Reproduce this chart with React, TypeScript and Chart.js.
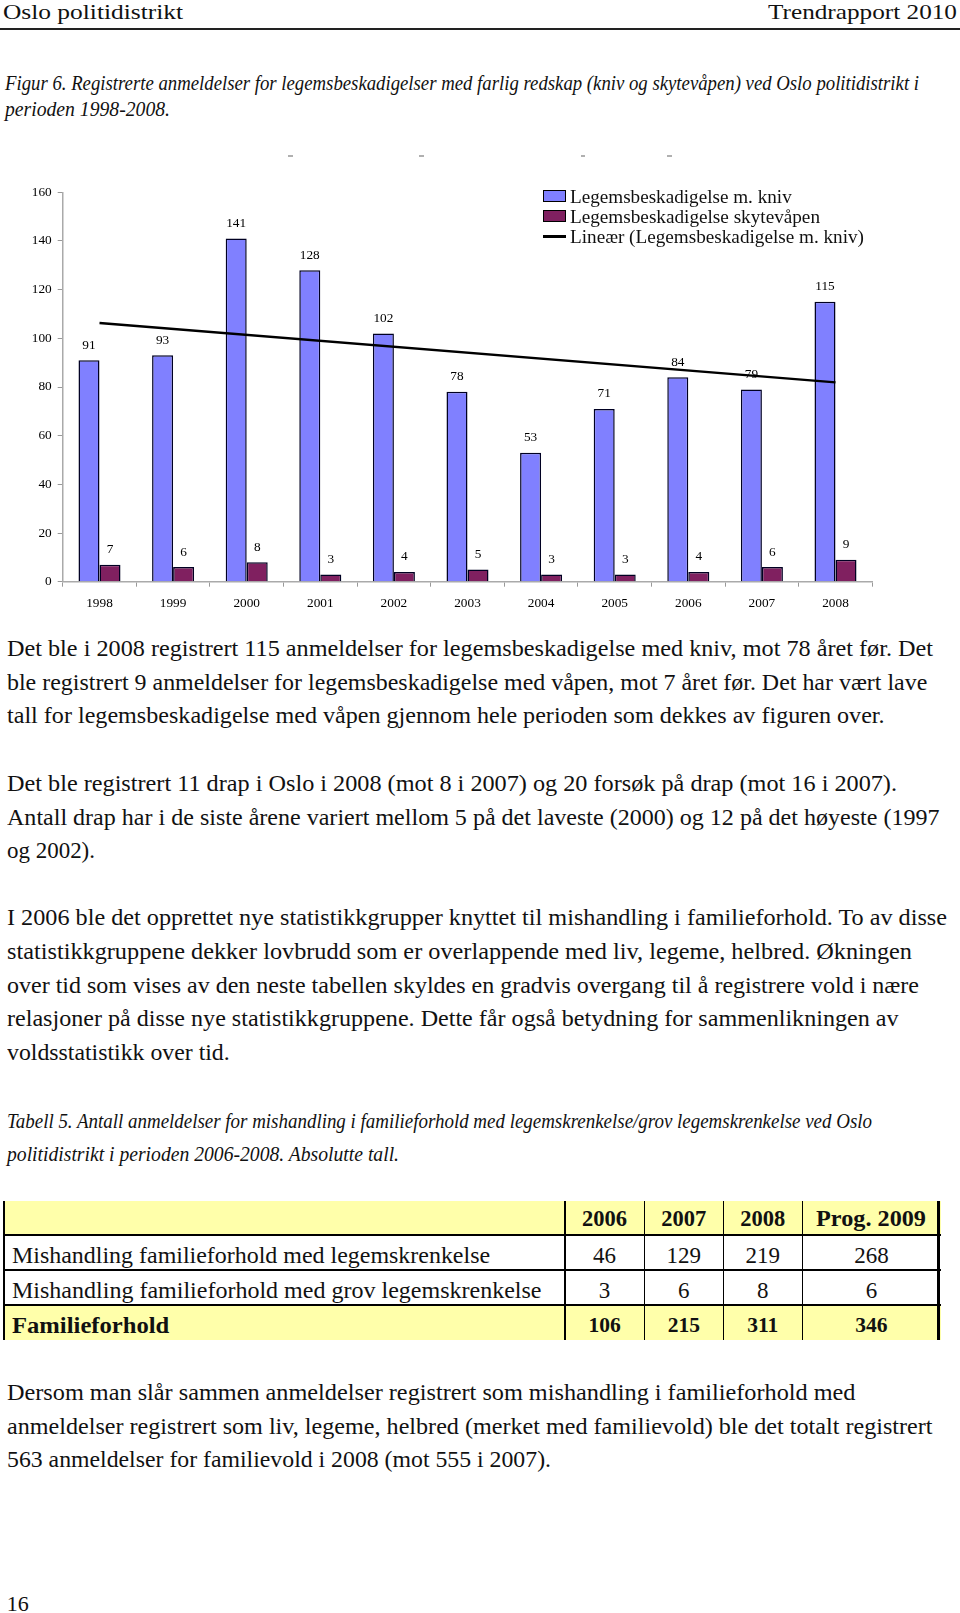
import React, { useEffect, useLayoutEffect, useRef } from "react";
import { Chart, registerables } from "chart.js";

Chart.register(...registerables);

// ---------- chart data ----------
const years = ["1998", "1999", "2000", "2001", "2002", "2003", "2004", "2005", "2006", "2007", "2008"];
const knivValues = [91, 93, 141, 128, 102, 78, 53, 71, 84, 79, 115];
const skyteValues = [7, 6, 8, 3, 4, 5, 3, 3, 4, 6, 9];
// trend line: start (1998) and end (2008), straight between
const trendValues: (number | null)[] = [106.3, null, null, null, null, null, null, null, null, null, 81.9];
const yMin = 0;
const yMax = 160;
const yStep = 20;
const legendLabels = [
  "Legemsbeskadigelse m. kniv",
  "Legemsbeskadigelse skytevåpen",
  "Lineær (Legemsbeskadigelse m. kniv)",
];

// ---------- table data ----------
const tableHeaders = ["2006", "2007", "2008", "Prog. 2009"];
const tableRowLabels = [
  "Mishandling familieforhold med legemskrenkelse",
  "Mishandling familieforhold med grov legemskrenkelse",
  "Familieforhold",
];
const rowLegemskrenkelse = [46, 129, 219, 268];
const rowGrovLegemskrenkelse = [3, 6, 8, 6];
const rowFamilieforhold = [106, 215, 311, 346];

const BLUE = "#8080ff";
const PURPLE = "#802060";
const FONT = "'Liberation Serif', 'Times New Roman', serif";

type FitProps = {
  x: number;
  b: number;
  w?: number;
  size: number;
  italic?: boolean;
  bold?: boolean;
  align?: "left" | "center";
  children: React.ReactNode;
};

function Fit({ x, b, w, size, italic, bold, align = "left", children }: FitProps) {
  const ref = useRef<HTMLSpanElement>(null);
  useLayoutEffect(() => {
    const fit = () => {
      const el = ref.current;
      if (!el || !w) return;
      el.style.transform = "none";
      const nat = el.getBoundingClientRect().width;
      if (nat > 0) el.style.transform = `scaleX(${w / nat})`;
    };
    fit();
    const fonts = (document as any).fonts;
    if (fonts && fonts.ready) fonts.ready.then(fit);
  });
  const top = b - 0.8375 * size;
  const style: React.CSSProperties = {
    position: "absolute",
    top,
    whiteSpace: "nowrap",
    fontSize: size,
    lineHeight: `${size}px`,
    fontStyle: italic ? "italic" : "normal",
    fontWeight: bold ? "bold" : "normal",
    fontFamily: FONT,
    color: "#111",
    transformOrigin: "0 0",
  };
  if (align === "center") {
    if (w) {
      style.left = x - w / 2;
    } else {
      style.left = x;
      style.transform = "translateX(-50%)";
    }
  } else {
    style.left = x;
  }
  return (
    <span ref={ref} style={style}>
      {children}
    </span>
  );
}

function BarChart() {
  const canvasRef = useRef<HTMLCanvasElement>(null);
  useEffect(() => {
    if (!canvasRef.current) return;
    const labelPlugin = {
      id: "barValueLabels",
      afterDatasetDraw(chart: any, args: any) {
        const meta = args.meta;
        if (meta.type !== "bar") return;
        const ds = chart.data.datasets[args.index];
        const ctx = chart.ctx;
        ctx.save();
        ctx.font = `13.3px ${FONT}`;
        ctx.fillStyle = "#000";
        ctx.textAlign = "center";
        ctx.textBaseline = "middle";
        meta.data.forEach((el: any, i: number) => {
          ctx.fillText(String(ds.data[i]), el.x, el.y - 15);
        });
        ctx.restore();
      },
    };
    const tickFont = { family: FONT, size: 13.3 };
    const chart = new Chart(canvasRef.current, {
      type: "bar",
      data: {
        labels: years,
        datasets: [
          {
            type: "line",
            label: legendLabels[2],
            data: trendValues,
            borderColor: "#000",
            borderWidth: 2.5,
            pointRadius: 0,
            spanGaps: true,
            tension: 0,
            order: 0,
          } as any,
          {
            type: "bar",
            label: legendLabels[0],
            data: knivValues,
            backgroundColor: BLUE,
            borderColor: "#000022",
            borderWidth: 1.5,
            categoryPercentage: 0.571,
            barPercentage: 1,
            order: 1,
          },
          {
            type: "bar",
            label: legendLabels[1],
            data: skyteValues,
            backgroundColor: PURPLE,
            borderColor: "#000022",
            borderWidth: 1.5,
            categoryPercentage: 0.571,
            barPercentage: 1,
            order: 1,
          },
        ],
      },
      options: {
        responsive: false,
        animation: false,
        devicePixelRatio: 1,
        layout: { padding: { left: 0, right: 87.7, top: 52.3, bottom: 0 } },
        plugins: { legend: { display: false }, tooltip: { enabled: false } },
        scales: {
          x: {
            offset: true,
            grid: {
              offset: true,
              drawOnChartArea: false,
              drawTicks: true,
              tickLength: 5,
              color: "#999",
              lineWidth: 1,
            },
            border: { display: true, color: "#aaa", width: 1.5 },
            ticks: { font: tickFont, color: "#000", padding: 9, maxRotation: 0, autoSkip: false },
            afterFit: (s: any) => {
              s.height = 48.3;
            },
          },
          y: {
            min: yMin,
            max: yMax,
            grid: {
              drawOnChartArea: false,
              drawTicks: true,
              tickLength: 5,
              color: "#999",
              lineWidth: 1,
            },
            border: { display: true, color: "#aaa", width: 1.5 },
            ticks: { stepSize: yStep, font: tickFont, color: "#000", padding: 6 },
            afterFit: (s: any) => {
              s.width = 62.7;
            },
          },
        },
      },
      plugins: [labelPlugin],
    });
    return () => chart.destroy();
  }, []);
  return (
    <canvas
      ref={canvasRef}
      width={960}
      height={490}
      style={{ position: "absolute", left: 0, top: 140, width: 960, height: 490 }}
    />
  );
}

function Legend() {
  const textX = 570;
  return (
    <>
      <div
        style={{
          position: "absolute",
          left: 543.3,
          top: 190,
          width: 22.4,
          height: 12.3,
          background: BLUE,
          border: "1.2px solid #000",
          boxSizing: "border-box",
        }}
      />
      <div
        style={{
          position: "absolute",
          left: 543.3,
          top: 210,
          width: 22.4,
          height: 12.3,
          background: PURPLE,
          border: "1.2px solid #000",
          boxSizing: "border-box",
        }}
      />
      <div style={{ position: "absolute", left: 543.3, top: 235, width: 22.4, height: 2.5, background: "#000" }} />
      <Fit x={textX} b={202.5} w={221.7} size={19}>
        {legendLabels[0]}
      </Fit>
      <Fit x={textX} b={223} w={250} size={19}>
        {legendLabels[1]}
      </Fit>
      <Fit x={textX} b={243} w={294} size={19}>
        {legendLabels[2]}
      </Fit>
    </>
  );
}

function Table() {
  const top = 1200.7;
  const rowB = [1235, 1270, 1305, 1340];
  const left = 3;
  const right = 940.5;
  const colX = [565, 644.3, 723.3, 802.3];
  const colCenters = [604.6, 683.8, 762.8, 871.4];
  const yellow = "#ffffaa";
  const rows = [rowLegemskrenkelse, rowGrovLegemskrenkelse, rowFamilieforhold];
  const labelW = [478.1, 529.5, 157.3];
  return (
    <>
      {/* backgrounds */}
      <div style={{ position: "absolute", left, top, width: right - left, height: rowB[0] - top, background: yellow }} />
      <div
        style={{ position: "absolute", left, top: rowB[2], width: right - left, height: rowB[3] - rowB[2], background: yellow }}
      />
      {/* horizontal lines */}
      {rowB.slice(0, 3).map((y, i) => (
        <div
          key={"h" + i}
          style={{ position: "absolute", left, top: y - 0.75, width: right - left, height: 1.5, background: "#000" }}
        />
      ))}
      {/* vertical lines */}
      {colX.map((x, i) => (
        <div
          key={"v" + i}
          style={{ position: "absolute", left: x - 0.6, top, width: 1.2, height: rowB[3] - top, background: "#000" }}
        />
      ))}
      <div style={{ position: "absolute", left: 2.7, top, width: 2.7, height: rowB[3] - top, background: "#000" }} />
      <div style={{ position: "absolute", left: 936.7, top, width: 3.8, height: rowB[3] - top, background: "#000" }} />
      {/* header */}
      {tableHeaders.map((h, i) => (
        <Fit key={"th" + i} x={colCenters[i]} b={1226.7} size={22.5} bold align="center" w={i === 3 ? 110 : undefined}>
          {h}
        </Fit>
      ))}
      {/* rows */}
      {rows.map((vals, r) => (
        <React.Fragment key={"r" + r}>
          <Fit x={11.7} b={1263 + r * 35} w={labelW[r]} size={23} bold={r === 2}>
            {tableRowLabels[r]}
          </Fit>
          {vals.map((v, c) => (
            <Fit key={"c" + c} x={colCenters[c]} b={1263 + r * 35} size={r === 2 ? 21.5 : 23} bold={r === 2} align="center">
              {String(v)}
            </Fit>
          ))}
        </React.Fragment>
      ))}
    </>
  );
}

export default function App() {
  const bodyX = 6.7;
  const S = 23;
  return (
    <div
      style={{
        position: "absolute",
        left: 0,
        top: 0,
        width: 960,
        height: 1613,
        overflow: "hidden",
        background: "#fff",
        fontFamily: FONT,
      }}
    >
      {/* page header */}
      <Fit x={3} b={19} w={180} size={22}>
        Oslo politidistrikt
      </Fit>
      <Fit x={768} b={19} w={189} size={22}>
        Trendrapport 2010
      </Fit>
      <div style={{ position: "absolute", left: 0, top: 28.3, width: 960, height: 1.6, background: "#222" }} />

      {/* figure caption */}
      <Fit x={5} b={90} w={914} size={22} italic>
        Figur 6. Registrerte anmeldelser for legemsbeskadigelser med farlig redskap (kniv og skytevåpen) ved Oslo politidistrikt i
      </Fit>
      <Fit x={5} b={116} w={165} size={22} italic>
        perioden 1998-2008.
      </Fit>

      {/* small grey marks above the chart */}
      {[
        [288, 293],
        [419, 424],
        [581, 585],
        [667, 672],
      ].map(([a, bb], i) => (
        <div key={"d" + i} style={{ position: "absolute", left: a, top: 155, width: bb - a, height: 2, background: "#b0b0b0" }} />
      ))}

      <BarChart />
      <Legend />

      {/* paragraph 1 */}
      <Fit x={bodyX} b={656} w={926} size={S}>
        Det ble i 2008 registrert 115 anmeldelser for legemsbeskadigelse med kniv, mot 78 året før. Det
      </Fit>
      <Fit x={bodyX} b={690} w={920.3} size={S}>
        ble registrert 9 anmeldelser for legemsbeskadigelse med våpen, mot 7 året før. Det har vært lave
      </Fit>
      <Fit x={bodyX} b={723} w={877.6} size={S}>
        tall for legemsbeskadigelse med våpen gjennom hele perioden som dekkes av figuren over.
      </Fit>

      {/* paragraph 2 */}
      <Fit x={bodyX} b={791} w={890} size={S}>
        Det ble registrert 11 drap i Oslo i 2008 (mot 8 i 2007) og 20 forsøk på drap (mot 16 i 2007).
      </Fit>
      <Fit x={bodyX} b={825} w={932.5} size={S}>
        Antall drap har i de siste årene variert mellom 5 på det laveste (2000) og 12 på det høyeste (1997
      </Fit>
      <Fit x={bodyX} b={858} w={88} size={S}>
        og 2002).
      </Fit>

      {/* paragraph 3 */}
      <Fit x={bodyX} b={925} w={940} size={S}>
        I 2006 ble det opprettet nye statistikkgrupper knyttet til mishandling i familieforhold. To av disse
      </Fit>
      <Fit x={bodyX} b={959} w={905} size={S}>
        statistikkgruppene dekker lovbrudd som er overlappende med liv, legeme, helbred. Økningen
      </Fit>
      <Fit x={bodyX} b={993} w={912} size={S}>
        over tid som vises av den neste tabellen skyldes en gradvis overgang til å registrere vold i nære
      </Fit>
      <Fit x={bodyX} b={1026} w={891.5} size={S}>
        relasjoner på disse nye statistikkgruppene. Dette får også betydning for sammenlikningen av
      </Fit>
      <Fit x={bodyX} b={1060} w={222.7} size={S}>
        voldsstatistikk over tid.
      </Fit>

      {/* table caption */}
      <Fit x={7} b={1128} w={865} size={22} italic>
        Tabell 5. Antall anmeldelser for mishandling i familieforhold med legemskrenkelse/grov legemskrenkelse ved Oslo
      </Fit>
      <Fit x={7} b={1161} w={392} size={22} italic>
        politidistrikt i perioden 2006-2008. Absolutte tall.
      </Fit>

      <Table />

      {/* last paragraph */}
      <Fit x={bodyX} b={1400} w={848.5} size={S}>
        Dersom man slår sammen anmeldelser registrert som mishandling i familieforhold med
      </Fit>
      <Fit x={bodyX} b={1434} w={925.5} size={S}>
        anmeldelser registrert som liv, legeme, helbred (merket med familievold) ble det totalt registrert
      </Fit>
      <Fit x={bodyX} b={1467} w={544} size={S}>
        563 anmeldelser for familievold i 2008 (mot 555 i 2007).
      </Fit>

      {/* page number */}
      <Fit x={6.7} b={1611} size={22}>
        16
      </Fit>
    </div>
  );
}
